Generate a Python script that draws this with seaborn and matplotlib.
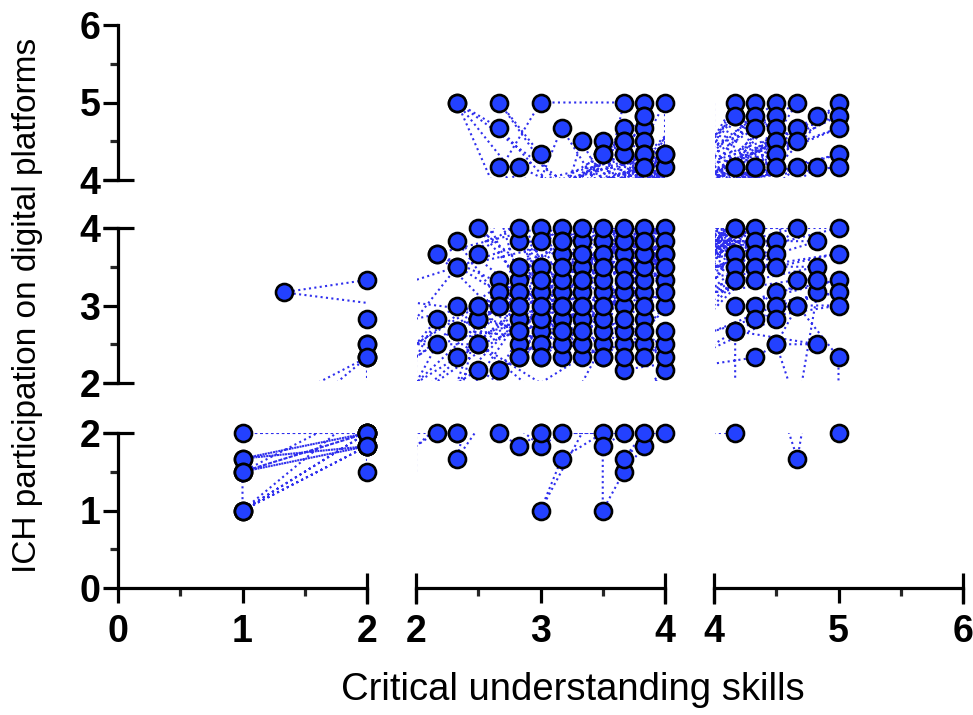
import matplotlib
matplotlib.use("Agg")
import matplotlib.pyplot as plt
from matplotlib.lines import Line2D
from matplotlib.patches import Rectangle
import pandas as pd
import seaborn as sns

# Respondent scores (critical understanding skills, ICH participation),
# listed in the order they are connected by the dotted line.
responses_low = [
    (2.0, 1.5), (2.0, 1.83), (1.0, 1.0), (2.0, 2.0), (1.0, 1.67), (2.0, 1.83),
    (1.0, 1.5), (2.0, 2.0), (1.0, 2.0), (2.0, 2.0), (1.0, 1.0), (2.0, 1.83),
    (1.0, 1.67), (2.0, 2.0), (1.0, 1.5), (1.0, 1.0), (2.0, 2.33), (1.0, 1.5),
    (2.0, 1.83), (2.0, 2.33), (2.17, 2.83),
    (2.0, 2.5), (2.5, 3.0), (2.0, 2.83), (2.33, 3.5), (2.0, 3.33), (1.33, 3.17),
    (3.0, 2.83), (2.17, 2.5), (2.0, 2.0), (2.17, 2.0), (2.33, 2.0), (2.5, 2.83),
    (2.33, 1.67), (2.83, 2.83), (2.33, 2.0), (2.5, 2.17), (2.67, 2.0), (2.83, 1.83),
    (3.0, 2.0), (2.5, 2.5), (3.0, 1.83), (3.17, 2.0), (3.5, 2.0), (3.17, 1.67),
    (3.0, 1.0), (3.5, 2.5), (3.0, 2.0), (3.67, 2.0), (3.5, 1.83), (3.5, 1.0),
    (3.67, 1.5), (3.83, 1.83), (4.0, 2.17), (3.67, 1.67), (3.83, 2.0), (4.0, 2.0),
    (4.17, 2.0), (4.17, 2.67), (4.83, 3.17), (4.67, 1.67), (4.5, 2.5), (4.33, 2.33),
    (3.67, 2.17),
]

responses_mid = [
    (3.67, 2.5), (2.83, 3.83), (3.33, 2.5), (2.83, 3.5), (4.0, 2.33), (3.0, 4.0),
    (2.83, 2.33), (3.17, 3.17), (2.83, 3.0), (3.33, 3.0), (2.83, 2.67), (3.17, 2.83),
    (2.83, 2.5), (3.0, 3.17), (3.17, 2.33), (3.0, 2.67), (3.5, 3.83), (3.0, 2.5),
    (3.17, 2.5), (3.83, 3.5),
]

responses_upper = [
    (2.67, 2.17), (3.33, 2.83), (2.83, 4.0), (2.33, 5.0), (2.67, 4.67), (3.33, 3.5),
    (2.67, 5.0), (3.0, 4.33), (2.5, 3.67), (3.0, 5.0), (3.67, 5.0), (3.5, 3.83),
    (3.17, 4.67), (2.83, 3.33), (2.67, 4.17), (3.17, 3.0), (2.83, 4.17), (3.67, 3.5),
    (3.33, 4.5), (3.17, 3.67), (3.5, 4.5), (3.83, 2.83), (3.5, 4.33), (3.33, 3.83),
    (3.67, 4.67), (4.0, 3.0), (3.67, 4.5), (3.0, 3.83), (3.67, 4.33), (3.5, 3.17),
    (3.83, 5.0), (3.67, 2.67), (3.83, 4.83), (3.33, 3.17), (3.83, 4.67), (4.0, 3.67),
    (3.83, 4.5), (3.17, 2.67), (3.83, 4.33), (3.67, 3.0), (3.83, 4.17), (3.5, 3.5),
    (4.0, 5.0), (4.0, 4.17), (3.83, 3.67), (4.0, 4.33), (3.17, 4.0), (2.33, 5.0),
    (2.83, 3.17), (2.33, 3.83), (3.0, 2.33), (2.17, 3.67), (3.5, 2.67), (2.5, 4.0),
    (3.33, 2.33), (2.33, 3.0), (3.83, 2.5), (2.33, 2.67), (3.0, 3.5), (2.33, 2.33),
    (3.17, 3.33), (2.5, 2.83), (3.67, 2.33), (2.67, 3.33), (4.0, 2.5), (2.67, 3.17),
    (3.5, 2.33), (2.67, 3.0), (3.83, 3.17), (2.5, 2.5),
]

responses_cross = [
    (2.0, 2.5), (3.17, 3.83), (2.0, 2.33), (3.0, 3.5), (2.0, 2.0), (3.33, 3.33),
    (2.0, 1.83), (2.83, 3.0), (2.17, 3.67), (3.83, 4.33), (2.33, 3.5), (4.17, 4.17),
    (2.5, 2.83), (4.5, 4.5), (2.33, 2.67), (3.67, 4.5), (2.83, 2.33), (4.33, 4.17),
    (3.0, 2.83), (4.17, 4.83), (3.17, 2.67), (3.5, 4.33), (2.67, 2.17), (4.5, 4.17),
    (3.33, 3.0), (4.17, 3.67), (2.83, 3.5), (4.33, 3.83), (3.0, 2.33), (4.17, 4.0),
    (2.5, 3.0), (3.83, 4.17), (3.17, 3.0), (4.33, 3.5), (3.33, 2.5), (4.0, 4.33),
    (2.83, 2.67), (4.17, 3.33), (3.5, 2.33), (3.83, 4.83), (2.67, 3.0), (4.5, 3.83),
]

responses_high = [
    (3.67, 3.67), (4.17, 5.0), (3.5, 2.83), (4.33, 5.0), (3.83, 3.33), (4.5, 5.0),
    (3.33, 3.67), (4.67, 5.0), (4.0, 3.33), (5.0, 5.0), (3.67, 3.17), (4.17, 4.83),
    (3.0, 3.0), (4.33, 4.83), (3.83, 3.83), (4.5, 4.83), (3.5, 3.0), (4.83, 4.83),
    (4.0, 4.0), (5.0, 4.83), (3.17, 3.83), (4.33, 4.67), (3.67, 2.83), (4.5, 4.67),
    (3.33, 2.67), (4.67, 4.67), (3.83, 4.0), (5.0, 4.67), (3.0, 3.33), (4.5, 4.5),
    (3.5, 4.0), (4.67, 4.5), (3.83, 3.5), (4.5, 4.33), (3.17, 3.5), (5.0, 4.33),
    (3.67, 3.83), (4.17, 4.17), (3.33, 3.33), (4.33, 4.17), (4.0, 3.83), (4.5, 4.17),
    (3.5, 3.67), (4.67, 4.17), (3.83, 3.0), (4.83, 4.17), (3.67, 4.0), (5.0, 4.17),
    (4.17, 4.0), (3.5, 3.33), (4.33, 4.0), (3.83, 3.67), (4.67, 4.0), (3.33, 4.0),
    (5.0, 4.0), (4.17, 3.67), (3.67, 3.5), (4.33, 3.83), (4.0, 3.67), (4.5, 3.83),
    (3.83, 3.83), (4.83, 3.83), (4.17, 3.5), (3.67, 3.33), (4.33, 3.67), (4.0, 3.5),
    (4.5, 3.67), (4.17, 3.33), (3.83, 2.67), (4.33, 3.5), (5.0, 3.67), (4.5, 3.5),
    (3.5, 3.5), (4.83, 3.5), (4.33, 3.33), (4.0, 3.17), (4.67, 3.33), (4.83, 3.33),
    (4.17, 3.0), (5.0, 3.33), (4.5, 3.17), (4.33, 3.0), (5.0, 3.17), (4.5, 3.0),
    (4.0, 2.67), (4.67, 3.0), (5.0, 3.0), (4.33, 2.83), (4.5, 2.83), (3.83, 2.33),
    (4.17, 2.67), (4.83, 2.5), (4.5, 2.5), (4.67, 3.0), (5.0, 2.33), (5.0, 2.0),
]

# Axis segments of the broken axes and their tick labels
x_segments = [(0, 2), (2, 4), (4, 6)]
y_segments = [(0, 2), (2, 4), (4, 6)]
x_tick_labels = [["0", "1", "2"], ["2", "3", "4"], ["4", "5", "6"]]
y_tick_labels = [["0", "1", "2"], ["2", "3", "4"], ["4", "5", "6"]]
x_title = "Critical understanding skills"
y_title = "ICH participation on digital platforms"

FILL = "#2341ff"
LINE = "#2f2fee"
W, H = 973, 715

df = pd.DataFrame(responses_low + responses_mid + responses_upper
                  + responses_cross + responses_high,
                  columns=["skills", "participation"])

sns.set_theme(style="white")
plt.rcParams["font.family"] = ["Liberation Sans", "DejaVu Sans"]

fig = plt.figure(figsize=(W / 100, H / 100), dpi=100)

# panel extents in pixels: columns (left, right), rows (top, bottom); row 0 is the lowest
col_px = [(118, 367), (416, 665), (714, 963)]
row_px = [(433, 588), (228, 383), (25, 180)]

AX_LW = 2.3
MAJOR_LEN = 10.8
MINOR_LEN = 6.0

for r, (ylo, yhi) in enumerate(y_segments):
    for c, (xlo, xhi) in enumerate(x_segments):
        l, rgt = col_px[c]
        t, b = row_px[r]
        ax = fig.add_axes([l / W, (H - b) / H, (rgt - l) / W, (b - t) / H])
        ax.set_facecolor("none")

        sns.lineplot(data=df, x="skills", y="participation", sort=False,
                     estimator=None, ax=ax, color=LINE, lw=1.5, zorder=1)
        connector = ax.lines[-1]
        connector.set_linestyle((0, (1, 1.6)))
        # keep segments lying exactly on a panel's lower/left break out of view
        connector.set_clip_path(Rectangle((0.006, 0.01), 0.994, 0.99,
                                          transform=ax.transAxes))

        in_x = (df.skills > xlo) | ((c == 0) & (df.skills >= xlo))
        in_x &= df.skills <= xhi
        in_y = (df.participation > ylo) | ((r == 0) & (df.participation >= ylo))
        in_y &= df.participation <= yhi
        sub = df[in_x & in_y]
        sns.scatterplot(data=sub, x="skills", y="participation", ax=ax, s=150,
                        color=FILL, edgecolor="black", linewidth=1.9,
                        zorder=3, clip_on=False, legend=False)

        ax.set_xlim(xlo, xhi)
        ax.set_ylim(ylo, yhi)
        ax.set_xlabel("")
        ax.set_ylabel("")
        for side in ["top", "right", "left", "bottom"]:
            ax.spines[side].set_visible(False)
        ax.grid(False)

        ax.set_xticks([xlo, xlo + 1, xhi])
        ax.set_xticks([xlo + 0.5, xlo + 1.5], minor=True)
        ax.set_yticks([ylo, ylo + 1, yhi])
        ax.set_yticks([ylo + 0.5, ylo + 1.5], minor=True)

        if r == 0:
            ax.spines["bottom"].set_visible(True)
            ax.spines["bottom"].set_linewidth(AX_LW)
            ax.spines["bottom"].set_color("black")
            ax.set_xticklabels(x_tick_labels[c], fontsize=27, fontweight="bold")
            ax.tick_params(axis="x", which="major", bottom=True, length=MAJOR_LEN,
                           width=AX_LW, direction="out", pad=8, colors="black")
            ax.tick_params(axis="x", which="minor", bottom=True, length=MINOR_LEN,
                           width=AX_LW, direction="out")
        else:
            ax.tick_params(axis="x", which="both", bottom=False, labelbottom=False)

        if c == 0:
            ax.spines["left"].set_visible(True)
            ax.spines["left"].set_linewidth(AX_LW)
            ax.spines["left"].set_color("black")
            ax.set_yticklabels(y_tick_labels[r], fontsize=27, fontweight="bold")
            ax.tick_params(axis="y", which="major", left=True, length=MAJOR_LEN,
                           width=AX_LW, direction="out", pad=2, colors="black")
            ax.tick_params(axis="y", which="minor", left=True, length=MINOR_LEN,
                           width=AX_LW, direction="out")
        else:
            ax.tick_params(axis="y", which="both", left=False, labelleft=False)

# end caps marking each break of the axes
CAP = 15.5
x_axis_y = row_px[0][1]
for c, (l, rgt) in enumerate(col_px):
    ends = ([rgt] if c == 0 else [l, rgt])
    for px in ends:
        fig.add_artist(Line2D([px / W, px / W],
                              [(H - x_axis_y - CAP) / H, (H - x_axis_y + CAP) / H],
                              transform=fig.transFigure, color="black", lw=AX_LW,
                              solid_capstyle="butt"))
y_axis_x = col_px[0][0]
for r, (t, b) in enumerate(row_px):
    ends = [t] if r == 0 else ([b] if r == 2 else [t, b])
    for py in ends:
        fig.add_artist(Line2D([(y_axis_x - CAP) / W, (y_axis_x + CAP) / W],
                              [(H - py) / H, (H - py) / H],
                              transform=fig.transFigure, color="black", lw=AX_LW,
                              solid_capstyle="butt"))

fig.text(573 / W, 1 - 690 / H, x_title, ha="center", va="center", fontsize=27.5,
         color="black")
fig.text(28 / W, 1 - 305 / H, y_title, ha="center", va="center", fontsize=24,
         rotation=90, color="black")

fig.savefig("out.png", dpi=100)
